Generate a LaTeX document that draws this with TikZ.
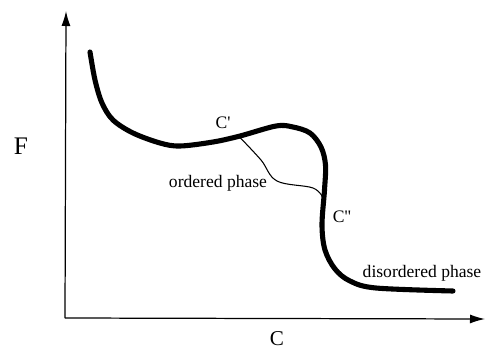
\documentclass[tikz,border=0pt]{standalone}
\usepackage{fontspec}
\setmainfont{Liberation Serif}
\usetikzlibrary{arrows.meta,positioning}

\begin{document}
\begin{tikzpicture}[
        axis/.style={
            line width=0.7pt,
            -{Latex[length=3mm,width=1.8mm]}
        },
        thickcurve/.style={
            line width=2.9pt,
            line cap=round
        },
        thincurve/.style={
            line width=0.6pt
        },
        axislabel/.style={
            font=\large
        },
        curvelabel/.style={
            font=\normalsize
        }
    ]

    \useasboundingbox (0,0) rectangle (9.72,7);

    % axes
    \coordinate (origin) at (1.30, 0.64);
    \coordinate (ytop) at (1.32, 6.78);
    \coordinate (xend) at (9.70, 0.62);
    \draw[axis] (origin) -- (ytop);
    \draw[axis] (origin) -- (xend);

    \node[axislabel, font=\Large] (F) at (0.42, 4.08) {F};
    \node[axislabel] (C) at (5.54, 0.22) {C};

    % free energy curve
    \draw[thickcurve] plot[smooth, tension=0.55] coordinates {
        (1.80, 5.96) (1.90, 5.40) (2.04, 4.94) (2.26, 4.60) (2.66, 4.34)
        (3.20, 4.14) (3.60, 4.08) (4.26, 4.16) (4.80, 4.28) (5.52, 4.48)
        (5.86, 4.46) (6.20, 4.34) (6.42, 4.06) (6.51, 3.70) (6.49, 3.20)
        (6.44, 2.50) (6.50, 2.00) (6.70, 1.62) (7.00, 1.38) (7.52, 1.24)
        (9.06, 1.18)
    };

    % common tangent branch
    \draw[thincurve] plot[smooth, tension=0.6] coordinates {
        (4.80, 4.25) (5.22, 3.80) (5.54, 3.38) (6.26, 3.24) (6.47, 3.02)
    };

    \node[curvelabel] (Cp) at (4.46, 4.54) {C\textquotesingle};
    \node[curvelabel] (ordered) at (4.36, 3.34) {ordered phase};
    \node[curvelabel] (Cpp) at (6.84, 2.66) {C\textquotesingle\textquotesingle};
    \node[curvelabel] (disordered) at (8.44, 1.54) {disordered phase};

\end{tikzpicture}
\end{document}
